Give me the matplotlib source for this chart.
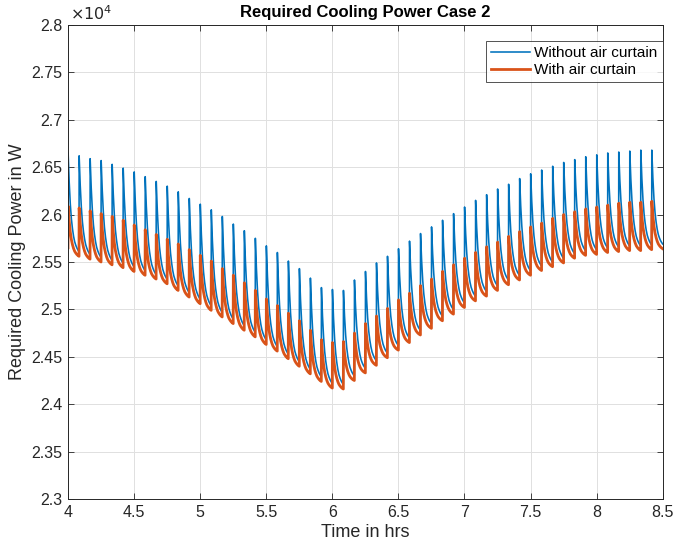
import numpy as np
import matplotlib
matplotlib.use("Agg")
import matplotlib.pyplot as plt
from matplotlib.ticker import FuncFormatter

plt.rcParams['font.family'] = ['Liberation Sans', 'DejaVu Sans']

# ---- data (W) ----
T_START = 4.0
CYCLE_HRS = 1.0 / 12.0          # one spike every 5 minutes
START_VALUE = 25700

blue_peaks = [26650, 26620, 26590, 26570, 26530, 26490, 26450, 26400, 26350, 26300,
              26240, 26170, 26110, 26050, 25980, 25900, 25830, 25750, 25670, 25600,
              25510, 25430, 25330, 25230, 25210, 25200, 25310, 25400, 25490, 25560,
              25640, 25720, 25800, 25870, 25940, 26010, 26080, 26150, 26210, 26270,
              26320, 26380, 26430, 26470, 26510, 26550, 26580, 26610, 26630, 26650,
              26660, 26670, 26680, 26680]

orange_peaks = [26090, 26070, 26040, 26010, 25980, 25940, 25890, 25840, 25790, 25740,
                25690, 25630, 25570, 25510, 25430, 25360, 25280, 25200, 25110, 25040,
                24960, 24880, 24780, 24680, 24650, 24660, 24750, 24850, 24930, 25010,
                25100, 25170, 25250, 25320, 25400, 25470, 25540, 25600, 25660, 25710,
                25770, 25820, 25870, 25910, 25960, 26000, 26030, 26060, 26080, 26100,
                26120, 26130, 26130, 26140]

orange_troughs = [25560, 25530, 25500, 25470, 25440, 25400, 25360, 25320, 25270, 25200,
                  25130, 25060, 24990, 24920, 24850, 24780, 24710, 24630, 24560, 24480,
                  24400, 24320, 24240, 24170, 24160, 24250, 24330, 24410, 24490, 24570,
                  24650, 24730, 24800, 24880, 24950, 25020, 25090, 25140, 25200, 25260,
                  25310, 25360, 25410, 25450, 25490, 25540, 25570, 25580, 25600, 25610,
                  25620, 25620, 25630, 25640]

blue_troughs = [25610, 25580, 25550, 25520, 25490, 25450, 25410, 25370, 25320, 25250,
                25180, 25110, 25040, 24970, 24900, 24830, 24760, 24680, 24610, 24530,
                24450, 24370, 24290, 24220, 24210, 24300, 24380, 24460, 24540, 24620,
                24700, 24780, 24850, 24930, 25000, 25070, 25140, 25190, 25250, 25310,
                25360, 25410, 25460, 25500, 25540, 25590, 25620, 25630, 25650, 25660,
                25670, 25670, 25680, 25690]

# decay shape within one cycle (fraction of cycle, fraction of peak-trough height)
decay_tau = [0.0, 0.03, 0.06, 0.1, 0.15, 0.2, 0.3, 0.4, 0.5, 0.6, 0.7, 0.8, 0.9, 1.0]
decay_shape = [1.0, 0.90, 0.81, 0.70, 0.58, 0.48, 0.33, 0.23, 0.155, 0.10, 0.065, 0.037, 0.016, 0.0]
RISE_FRAC = 0.012

x_ticks = [4, 4.5, 5, 5.5, 6, 6.5, 7, 7.5, 8, 8.5]
y_ticks = [23000, 23500, 24000, 24500, 25000, 25500, 26000, 26500, 27000, 27500, 28000]


def build_series(peaks, troughs, start):
    t, v = [T_START], [start]
    tau = np.asarray(decay_tau)
    shp = np.asarray(decay_shape)
    for k, (p, tr) in enumerate(zip(peaks, troughs)):
        t0 = T_START + k * CYCLE_HRS + RISE_FRAC * CYCLE_HRS
        span = CYCLE_HRS * (1 - RISE_FRAC)
        t.extend(t0 + tau * span)
        v.extend(tr + shp * (p - tr))
    return np.array(t), np.array(v)


tb, vb = build_series(blue_peaks, blue_troughs, START_VALUE)
to, vo = build_series(orange_peaks, orange_troughs, START_VALUE - 50)

fig = plt.figure(figsize=(6.76, 5.49), dpi=100)
ax = fig.add_axes([0.1006, 0.0911, 0.8797, 0.8634])

ax.plot(tb, vb, color='#0072BD', lw=1.15, label='Without air curtain')
ax.plot(to, vo, color='#D95319', lw=2.0, label='With air curtain')

ax.set_xlim(4, 8.5)
ax.set_ylim(23000, 28000)
ax.set_xticks(x_ticks)
ax.set_yticks(y_ticks)
ax.xaxis.set_major_formatter(FuncFormatter(lambda v, p: f"{v:g}"))
ax.yaxis.set_major_formatter(FuncFormatter(lambda v, p: f"{v/1e4:g}"))
ax.tick_params(direction='in', top=True, right=True, labelsize=11.5, length=4,
               width=0.6, colors='#262626', labelcolor='#262626', pad=4)
ax.grid(True, color='#e0e0e0', lw=0.7)
ax.set_axisbelow(True)
for s in ax.spines.values():
    s.set_color('#262626')
    s.set_linewidth(0.7)

ax.text(0.003, 1.004, r'$\times10^{4}$', transform=ax.transAxes, fontsize=11.5,
        color='#262626', ha='left', va='bottom')
ax.set_title('Required Cooling Power Case 2', fontsize=12, fontweight='bold', pad=6)
ax.set_xlabel('Time in hrs', fontsize=13, color='#262626', labelpad=3)
ax.set_ylabel('Required Cooling Power in W', fontsize=13, color='#262626', labelpad=4)

leg = ax.legend(loc='upper right', bbox_to_anchor=(1.0, 0.967), fontsize=11,
                frameon=True, fancybox=False, borderpad=0.35, handlelength=2.5,
                handletextpad=0.3, labelspacing=0.2, borderaxespad=0.0)
leg.get_frame().set_edgecolor('#262626')
leg.get_frame().set_linewidth(0.7)

fig.savefig('out.png', dpi=100, facecolor='white')
